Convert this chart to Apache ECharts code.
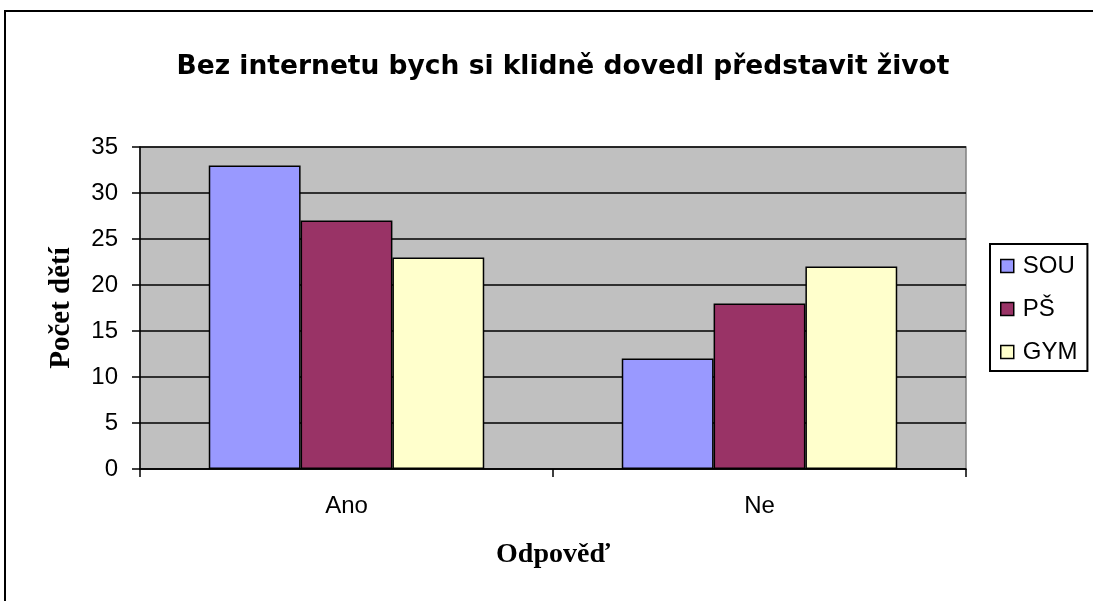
<!DOCTYPE html>
<html>
<head>
<meta charset="utf-8">
<script src="https://cdn.jsdelivr.net/npm/echarts@6/dist/echarts.min.js"></script>
<style>
  html, body { margin: 0; padding: 0; background: #fff; }
  #chart { width: 1093px; height: 601px; }
</style>
</head>
<body>
<div id="chart"></div>
<script>
// data
const categories = ['Ano', 'Ne'];
const seriesNames = ['SOU', 'PŠ', 'GYM'];
const souValues = [33, 12];
const psValues = [27, 18];
const gymValues = [23, 22];
const seriesColors = ['#9999FF', '#993366', '#FFFFCC'];

const chart = echarts.init(document.getElementById('chart'));

function barSeries(name, data, color) {
    return {
        name: name,
        type: 'bar',
        data: data,
        barGap: '0%',
        barCategoryGap: '33.3%',
        itemStyle: { color: color, borderColor: '#000', borderWidth: 1.5 }
    };
}

const option = {
    animation: false,
    title: {
        text: 'Bez internetu bych si klidně dovedl představit život',
        left: 558,
        textAlign: 'center',
        top: 49,
        textStyle: { fontFamily: 'DejaVu Sans', fontSize: 26.5, fontWeight: 'bold', color: '#000' }
    },
    graphic: [{
        type: 'rect',
        shape: { x: 5, y: 11, width: 1200, height: 700 },
        style: { fill: 'none', stroke: '#000', lineWidth: 2 }
    }],
    legend: {
        orient: 'vertical',
        left: 990,
        top: 244,
        itemWidth: 13,
        itemHeight: 13,
        itemGap: 19,
        icon: 'rect',
        padding: [10, 10, 7, 10],
        borderColor: '#000',
        borderWidth: 2,
        itemStyle: { borderColor: '#000', borderWidth: 1.5 },
        textStyle: { fontFamily: 'Liberation Sans, Arial', fontSize: 24, color: '#000', padding: [0, 0, 0, 4] },
        data: seriesNames
    },
    grid: {
        left: 140, top: 147, width: 826, height: 322,
        show: true, backgroundColor: '#C0C0C0', borderColor: '#808080', borderWidth: 1.5
    },
    xAxis: {
        type: 'category',
        data: categories,
        name: 'Odpověď',
        nameLocation: 'middle',
        nameGap: 72,
        nameTextStyle: { fontFamily: 'Liberation Serif, Times New Roman', fontSize: 28, fontWeight: 'bold', color: '#000' },
        axisLine: { lineStyle: { color: '#000', width: 1.5 } },
        axisTick: { show: true, length: 8, lineStyle: { color: '#000', width: 1.5 } },
        axisLabel: { fontFamily: 'Liberation Sans, Arial', fontSize: 24, color: '#000', margin: 25 }
    },
    yAxis: {
        type: 'value',
        min: 0,
        max: 35,
        interval: 5,
        name: 'Počet dětí',
        nameLocation: 'middle',
        nameGap: 64,
        nameTextStyle: { fontFamily: 'Liberation Serif, Times New Roman', fontSize: 29, fontWeight: 'bold', color: '#000' },
        axisLine: { show: true, lineStyle: { color: '#000', width: 1.5 } },
        axisTick: { show: true, length: 8, lineStyle: { color: '#000', width: 1.5 } },
        axisLabel: { fontFamily: 'Liberation Sans, Arial', fontSize: 24, color: '#000', margin: 22 },
        splitLine: { show: true, lineStyle: { color: '#000', width: 1.5 } }
    },
    series: [
        barSeries(seriesNames[0], souValues, seriesColors[0]),
        barSeries(seriesNames[1], psValues, seriesColors[1]),
        barSeries(seriesNames[2], gymValues, seriesColors[2])
    ]
};

chart.setOption(option);
</script>
</body>
</html>
